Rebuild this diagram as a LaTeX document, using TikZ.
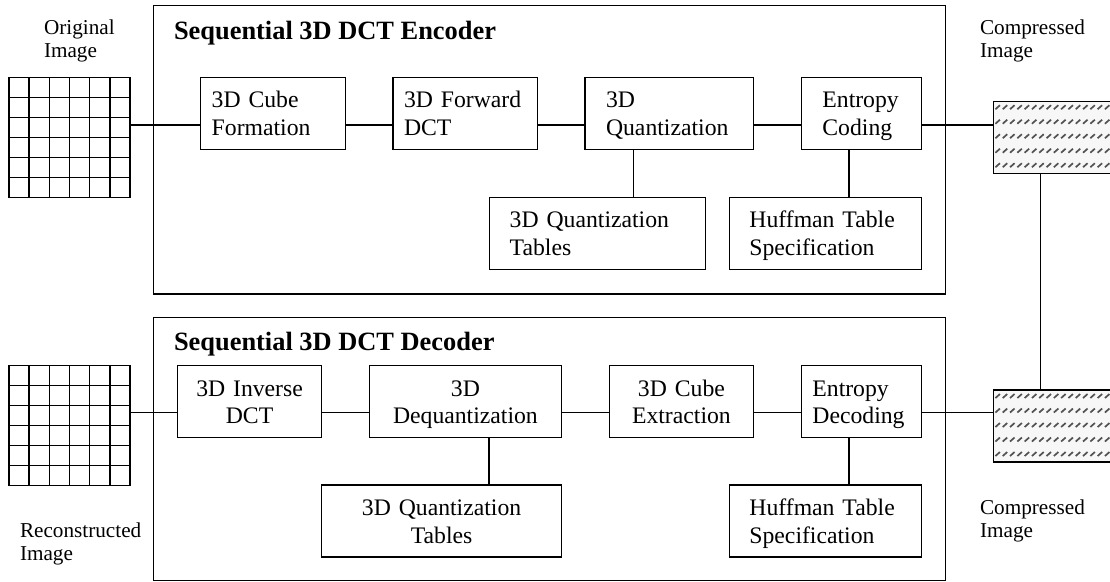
\documentclass[tikz,border=0pt]{standalone}
\usepackage{fontspec}
\setmainfont{Liberation Serif}
\usetikzlibrary{calc}
\begin{document}
\begin{tikzpicture}[x=1pt,y=-1pt,line width=1.45pt,
  blk/.style={draw,rectangle,anchor=north west,minimum height=72pt,inner ysep=0pt,
    text height=30.3pt,text depth=41.7pt,font=\fontsize{23.7}{27.7}\selectfont},
  frame/.style={draw,rectangle,anchor=north west,inner sep=0pt},
  ttl/.style={anchor=base west,inner sep=0pt,font=\bfseries\fontsize{26.4}{30}\selectfont},
  lab/.style={anchor=north west,inner sep=0pt,align=left,text height=20pt,
    font=\fontsize{21.2}{23.3}\selectfont},
  gridimg/.style={draw,rectangle,anchor=north west,inner sep=0pt,minimum width=121pt,minimum height=120pt,
    path picture={\foreach \i in {1,...,5}{
      \draw[line width=1.45pt] ($(path picture bounding box.north west)+(\i*20.17,0)$) -- ++(0,120);
      \draw[line width=1.45pt] ($(path picture bounding box.north west)+(0,\i*20)$) -- ++(121,0);}}},
  hatchbox/.style={draw,rectangle,anchor=north west,inner sep=0pt,minimum width=130pt,minimum height=72pt,
    fill=gray!6,
    path picture={\foreach \r in {6,20.5,35,49.5,64}{\foreach \c in {0,...,17}{
      \draw[black!68,line width=1.7pt] ($(path picture bounding box.north west)+(2+\c*7.3,\r+2)$) -- ++(4.5,-4);}}}}
]
\useasboundingbox (0,0) rectangle (1110,581);

% outer frames
\node[frame,minimum width=792pt,minimum height=288.6pt] (enc) at (152.7,4.7) {};
\node[frame,minimum width=792pt,minimum height=262.8pt] (dec) at (152.7,316.7) {};
\node[ttl] (enct) at (173.3,39.3) {Sequential 3D DCT Encoder};
\node[ttl] (dect) at (173.3,350.7) {Sequential 3D DCT Decoder};

% images
\node[gridimg] (img1) at (8.3,76.7) {};
\node[gridimg] (img2) at (8.3,365) {};
\node[hatchbox] (comp1) at (992.7,100.5) {};
\node[hatchbox] (comp2) at (992.7,389.3) {};

% labels
\node[lab,text width=90pt] (l1) at (43.3,13.3) {Original\\Image};
\node[lab,text width=120pt] (l2) at (979.3,13.3) {Compressed\\Image};
\node[lab,text width=120pt] (l3) at (979.3,493.3) {Compressed\\Image};
\node[lab,text width=130pt] (l4) at (19.3,516.7) {Reconstructed\\Image};

% encoder blocks
\node[blk,align=left,inner xsep=11pt,text width=123pt] (cube) at (200,76.7) {3D Cube\\Formation};
\node[blk,align=left,inner xsep=11pt,text width=122.7pt] (fwd) at (392.3,76.7) {3D Forward\\DCT};
\node[blk,align=left,inner xsep=21pt,text width=126.4pt] (quant) at (584.3,76.7) {3D\\Quantization};
\node[blk,align=left,inner xsep=21pt,text width=78pt] (ent) at (800.7,76.7) {Entropy\\Coding};
\node[blk,align=left,inner xsep=20pt,text width=176pt] (qtab) at (489,196.7) {3D Quantization\\Tables};
\node[blk,align=left,inner xsep=20pt,text width=152pt] (huff) at (728.7,196.7) {Huffman Table\\Specification};

% decoder blocks
\node[blk,align=center,inner xsep=6pt,text width=132.3pt] (inv) at (176.7,365) {3D Inverse\\DCT};
\node[blk,align=center,inner xsep=6pt,text width=180pt] (deq) at (368.7,365) {3D\\Dequantization};
\node[blk,align=center,inner xsep=6pt,text width=132pt] (cubex) at (608.7,365) {3D Cube\\Extraction};
\node[blk,align=left,inner xsep=11pt,text width=98pt] (entd) at (800.7,365) {Entropy\\Decoding};
\node[blk,align=center,inner xsep=6pt,text width=227.7pt] (qtabd) at (321,484.3) {3D Quantization\\Tables};
\node[blk,align=left,inner xsep=20pt,text width=152pt] (huffd) at (728.7,484.3) {Huffman Table\\Specification};

% connector rows
\coordinate (re) at (0,125);
\coordinate (rd) at (0,412.7);
\draw (img1.east |- re) -- (cube.west |- re);
\draw (cube.east |- re) -- (fwd.west |- re);
\draw (fwd.east |- re) -- (quant.west |- re);
\draw (quant.east |- re) -- (ent.west |- re);
\draw (ent.east |- re) -- (comp1.west |- re);
\draw (img2.east |- rd) -- (inv.west |- rd);
\draw (inv.east |- rd) -- (deq.west |- rd);
\draw (deq.east |- rd) -- (cubex.west |- rd);
\draw (cubex.east |- rd) -- (entd.west |- rd);
\draw (entd.east |- rd) -- (comp2.west |- rd);
% verticals
\draw (633.3,0 |- quant.south) -- (633.3,0 |- qtab.north);
\draw (849,0 |- ent.south) -- (849,0 |- huff.north);
\draw (489,0 |- deq.south) -- (489,0 |- qtabd.north);
\draw (849,0 |- entd.south) -- (849,0 |- huffd.north);
\draw (1040.7,0 |- comp1.south) -- (1040.7,0 |- comp2.north);
\end{tikzpicture}
\end{document}
